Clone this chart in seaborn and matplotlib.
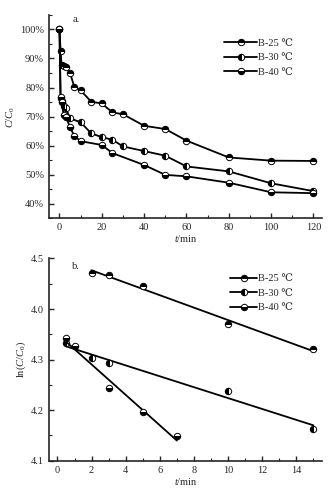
import seaborn as sns
import matplotlib.pyplot as plt
from matplotlib.ticker import MultipleLocator, FixedLocator
import numpy as np

# panel a: C/C0 (%) vs t (min)
t25 = [0, 0.5, 1, 2, 3, 5, 7, 10, 15, 20, 25, 30, 40, 50, 60, 80, 100, 120]
c25 = [100, 92.7, 87.6, 87.4, 87.1, 85.0, 80.2, 79.0, 75.1, 74.5, 71.4, 70.8, 66.8, 65.7, 61.7, 55.9, 54.8, 54.7]
t30 = [0, 0.5, 1, 2, 3, 5, 10, 15, 20, 25, 30, 40, 50, 60, 80, 100, 120]
c30 = [100, 76.3, 75.3, 73.5, 72.9, 69.4, 68.0, 64.2, 62.9, 62.0, 59.7, 58.1, 56.5, 52.8, 51.1, 47.0, 44.3]
t40 = [0, 0.5, 1, 2, 3, 5, 7, 10, 20, 25, 40, 50, 60, 80, 100, 120]
c40 = [100, 76.8, 75.0, 70.4, 69.9, 66.3, 63.3, 61.5, 60.2, 57.4, 53.3, 49.9, 49.4, 47.2, 43.9, 43.6]

# panel b: ln(C/C0) vs t (min)
tb25 = [2, 3, 5, 10, 15]
lb25 = [4.472, 4.468, 4.445, 4.370, 4.320]
tb30 = [0.5, 2, 3, 10, 15]
lb30 = [4.333, 4.303, 4.293, 4.237, 4.163]
tb40 = [0.5, 1, 3, 5, 7]
lb40 = [4.342, 4.326, 4.243, 4.197, 4.148]

labels = ['B-25 \u2103', 'B-30 \u2103', 'B-40 \u2103']
fills = ['top', 'left', 'bottom']
yticks_a = [40, 50, 60, 70, 80, 90, 100]
yticks_b = [4.1, 4.2, 4.3, 4.4, 4.5]
yticklabels_b = ['4.1', '4.2', '4.3', '4.0', '4.5']

sns.set_style('ticks')
plt.rcParams['font.family'] = ['Liberation Serif', 'DejaVu Serif']
plt.rcParams['mathtext.fontset'] = 'custom'
plt.rcParams['mathtext.rm'] = 'Liberation Serif'
plt.rcParams['mathtext.it'] = 'Liberation Serif:italic'
plt.rcParams['font.size'] = 7.5

fig = plt.figure(figsize=(3.35, 4.98), dpi=100)
ax1 = fig.add_axes([0.146, 0.562, 0.815, 0.408])
ax2 = fig.add_axes([0.146, 0.075, 0.815, 0.406])

mk = dict(marker='o', color='black', markerfacecoloralt='white',
          markeredgecolor='black', markeredgewidth=0.7, markersize=4.6)

for t, c, lab, fs in zip([t25, t30, t40], [c25, c30, c40], labels, fills):
    sns.lineplot(x=t, y=c, ax=ax1, sort=False, linewidth=1.3, fillstyle=fs,
                 label=lab, **mk)

for t, v, fs in zip([tb25, tb30, tb40], [lb25, lb30, lb40], fills):
    sns.regplot(x=np.array(t), y=np.array(v), ax=ax2, scatter=False, ci=None,
                color='black', line_kws={'lw': 1.3})
    sns.lineplot(x=t, y=v, ax=ax2, sort=False, linestyle='none', fillstyle=fs, **mk)

for ax in (ax1, ax2):
    sns.despine(ax=ax)
    for s in ('left', 'bottom'):
        ax.spines[s].set_linewidth(1.2)
    ax.tick_params(which='major', direction='in', length=3.5, width=1, labelsize=7.5)
    ax.tick_params(which='minor', direction='in', length=2, width=0.8)

ax1.set_xlim(-5, 124)
ax1.set_ylim(35, 105)
ax1.xaxis.set_major_locator(MultipleLocator(20))
ax1.xaxis.set_minor_locator(MultipleLocator(10))
ax1.yaxis.set_major_locator(FixedLocator(yticks_a))
ax1.yaxis.set_minor_locator(MultipleLocator(5))
ax1.set_yticklabels([f'{v}%' for v in yticks_a])
ax1.set_xlabel('$t$/min', labelpad=1)
ax1.set_ylabel('$C/C_0$', labelpad=2)
ax1.text(0.10, 0.98, 'a.', transform=ax1.transAxes, va='center', ha='center')
h, l = ax1.get_legend_handles_labels()
ax1.legend(h, l, loc='upper right', bbox_to_anchor=(0.93, 0.93), frameon=False,
           handlelength=3.2, handletextpad=0.1, labelspacing=0.5, fontsize=7.5)

ax2.set_xlim(-0.5, 15.5)
ax2.set_ylim(4.1, 4.5)
ax2.xaxis.set_major_locator(MultipleLocator(2))
ax2.xaxis.set_minor_locator(MultipleLocator(1))
ax2.yaxis.set_major_locator(FixedLocator(yticks_b))
ax2.yaxis.set_minor_locator(MultipleLocator(0.05))
ax2.set_yticklabels(yticklabels_b)
ax2.set_xlabel('$t$/min', labelpad=1)
ax2.set_ylabel('ln($C/C_0$)', labelpad=2)
ax2.text(0.10, 0.96, 'b.', transform=ax2.transAxes, va='center', ha='center')
ax2.legend(h, l, loc='upper right', bbox_to_anchor=(0.93, 0.97), frameon=False,
           handlelength=2.6, handletextpad=0.1, labelspacing=0.5, fontsize=7.5)

fig.savefig('out.png', dpi=100)
